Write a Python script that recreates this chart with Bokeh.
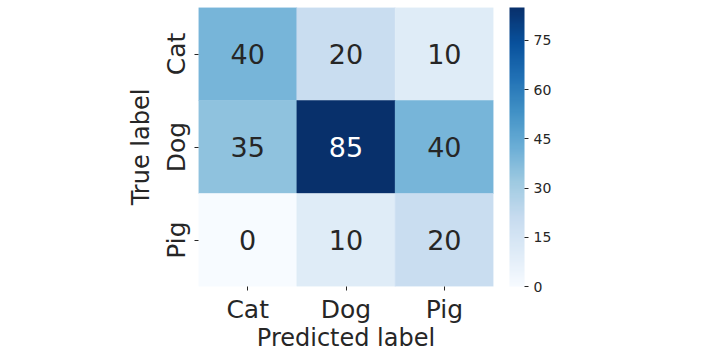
from bokeh.plotting import figure
from bokeh.models import ColumnDataSource, LinearColorMapper, ColorBar, FactorRange, FixedTicker
from bokeh.transform import transform
from bokeh.core.properties import value
from bokeh.embed import file_html
from bokeh.resources import INLINE

classes = ["Cat", "Dog", "Pig"]
true_labels = ["Cat", "Cat", "Cat", "Dog", "Dog", "Dog", "Pig", "Pig", "Pig"]
pred_labels = ["Cat", "Dog", "Pig", "Cat", "Dog", "Pig", "Cat", "Dog", "Pig"]
counts = [40, 20, 10, 35, 85, 40, 0, 10, 20]
cbar_ticks = [0, 15, 30, 45, 60, 75]

# matplotlib "Blues" anchors (ColorBrewer)
anchors = ["#f7fbff", "#deebf7", "#c6dbef", "#9ecae1", "#6baed6",
           "#4292c6", "#2171b5", "#08519c", "#08306b"]

def hex2rgb(h):
    return tuple(int(h[i:i + 2], 16) for i in (1, 3, 5))

def build_palette(n=256):
    rgbs = [hex2rgb(a) for a in anchors]
    out = []
    for i in range(n):
        t = i / (n - 1) * (len(rgbs) - 1)
        k = min(int(t), len(rgbs) - 2)
        f = t - k
        c = [round(rgbs[k][j] + (rgbs[k + 1][j] - rgbs[k][j]) * f) for j in range(3)]
        out.append("#%02x%02x%02x" % tuple(c))
    return out

palette = build_palette()
vmin, vmax = min(counts), max(counts)
mapper = LinearColorMapper(palette=palette, low=vmin, high=vmax)

text_colors = ["#ffffff" if (v - vmin) / (vmax - vmin) > 0.6 else "#262626" for v in counts]
src = ColumnDataSource(dict(true=true_labels, pred=pred_labels, count=counts,
                            label=[str(v) for v in counts], tcolor=text_colors))

FONT = "DejaVu Sans"
p = figure(width=720, height=354, output_backend="svg", toolbar_location=None,
           x_range=FactorRange(*classes), y_range=FactorRange(*classes[::-1]),
           frame_width=295, frame_height=279,
           min_border_left=198, min_border_top=7, min_border_bottom=10, min_border_right=10)
p.outline_line_color = None
p.grid.visible = False
p.background_fill_color = "white"
p.border_fill_color = "white"

p.rect(x="pred", y="true", width=1, height=1, source=src,
       fill_color=transform("count", mapper), line_color=transform("count", mapper), line_width=0.5)
p.text(x="pred", y="true", text="label", source=src, text_color="tcolor",
       text_align="center", text_baseline="middle", text_font_size="27px",
       text_font=value(FONT))

for ax in (p.xaxis[0], p.yaxis[0]):
    ax.axis_line_color = None
    ax.major_tick_line_color = "#262626"
    ax.major_tick_out = 4
    ax.major_tick_in = 0
    ax.major_label_text_font = FONT
    ax.major_label_text_font_size = "25px"
    ax.major_label_text_color = "#262626"
    ax.axis_label_text_font = FONT
    ax.axis_label_text_font_size = "24px"
    ax.axis_label_text_color = "#262626"
    ax.axis_label_text_font_style = "normal"

p.xaxis.axis_label = "Predicted label"
p.yaxis.axis_label = "True label"
p.yaxis.major_label_orientation = "vertical"
p.xaxis.major_label_standoff = 4
p.xaxis.axis_label_standoff = -3
p.yaxis.major_label_standoff = 4
p.yaxis.axis_label_standoff = 4

cb = ColorBar(color_mapper=mapper, width=15, height=279, padding=16, margin=0,
              location=(0, -16),
              ticker=FixedTicker(ticks=cbar_ticks),
              major_tick_in=0, major_tick_out=4, major_tick_line_color="#262626",
              label_standoff=5,
              major_label_text_font=FONT, major_label_text_font_size="14px",
              major_label_text_color="#262626", bar_line_color=None,
              border_line_color=None, background_fill_color=None)
p.add_layout(cb, "right")

open("out.html", "w").write(file_html(p, INLINE))
